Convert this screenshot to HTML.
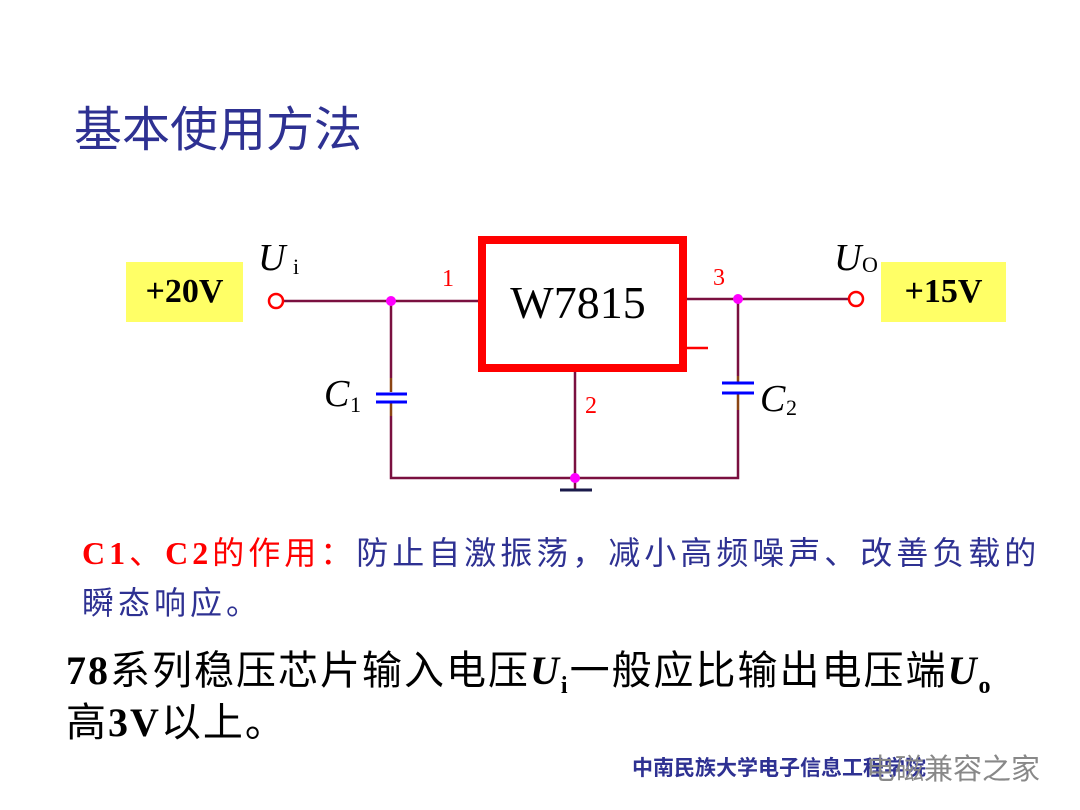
<!DOCTYPE html>
<html><head><meta charset="utf-8"><style>
body{margin:0;width:1080px;height:810px;background:#fff;position:relative;overflow:hidden;font-family:"Liberation Serif","Noto Serif CJK SC",serif}
.a{position:absolute;white-space:nowrap}
.s{font-family:'Liberation Sans','Noto Sans CJK SC',sans-serif}
b{font-family:'Liberation Serif',serif}
</style></head><body>
<div class="a s" style="left:74px;top:90px;font-size:48px;color:#2e3192">基本使用方法</div>
<div class="a" style="left:126px;top:262px;width:117px;height:60px;background:#ffff66;font-weight:bold;font-size:34px;line-height:60px;text-align:center">+20V</div>
<div class="a" style="left:881px;top:262px;width:125px;height:60px;background:#ffff66;font-weight:bold;font-size:34px;line-height:60px;text-align:center">+15V</div>
<svg class="a" style="left:0;top:0" width="1080" height="810">
<g stroke="#7a1040" stroke-width="2.5" fill="none">
<path d="M284 301H478M391 301V378M391 416V478H738V410M738 299V376M687 299H849M575 372V490"/>
</g>
<path d="M391 378V392M391 403V416M738 376V383M738 394V410" stroke="#8b4513" stroke-width="2.5"/>
<g stroke="#0000ff" stroke-width="3"><path d="M376 394H407M376 402H407M722 383H754M722 393H754"/></g>
<path d="M560 490H592" stroke="#1a1a4a" stroke-width="3"/>
<rect x="482" y="240" width="201" height="128" fill="none" stroke="#ff0000" stroke-width="8"/>
<path d="M687 348H708" stroke="#ff0000" stroke-width="2.5"/>
<circle cx="276" cy="301" r="7" fill="#fff" stroke="#ff0000" stroke-width="2.5"/>
<circle cx="856" cy="299" r="7" fill="#fff" stroke="#ff0000" stroke-width="2.5"/>
<g fill="#ff00ff"><circle cx="391" cy="301" r="5"/><circle cx="738" cy="299" r="5"/><circle cx="575" cy="478" r="5"/></g>
<text x="578" y="318" font-size="46" text-anchor="middle" font-family="Liberation Serif">W7815</text>
<g fill="#ff0000" font-size="24" font-family="Liberation Serif"><text x="442" y="286">1</text><text x="713" y="285">3</text><text x="585" y="413">2</text></g>
<g font-family="Liberation Serif" font-size="38" font-style="italic"><text x="258" y="270">U</text><text x="834" y="270">U</text><text x="324" y="406">C</text><text x="760" y="411">C</text></g>
<g font-family="Liberation Serif" font-size="22"><text x="293" y="274">i</text><text x="862" y="272">O</text><text x="350" y="412">1</text><text x="786" y="415">2</text></g>
</svg>
<div class="a s" style="left:82px;top:528px;font-size:32px;letter-spacing:4px;color:#2e3192"><span style="color:#ff0000"><b>C1</b>、<b>C2</b>的作用：</span>防止自激振荡，减小高频噪声、改善负载的</div>
<div class="a s" style="left:82px;top:578px;font-size:32px;letter-spacing:4px;color:#2e3192">瞬态响应。</div>
<div class="a s" style="left:66px;top:638px;font-size:40px;letter-spacing:2px"><b>78</b>系列稳压芯片输入电压<b><i>U</i><sub style="font-size:24px">i</sub></b>一般应比输出电压端<b><i>U</i><sub style="font-size:24px">o</sub></b></div>
<div class="a s" style="left:66px;top:690px;font-size:40px;letter-spacing:2px">高<b>3V</b>以上。</div>
<div class="a s" style="left:632px;top:752px;font-size:21px;font-weight:bold;color:#2e3192">中南民族大学电子信息工程学院</div>
<div class="a s" style="left:866px;top:746px;font-size:29px;color:#888">电磁兼容之家</div>
</body></html>
